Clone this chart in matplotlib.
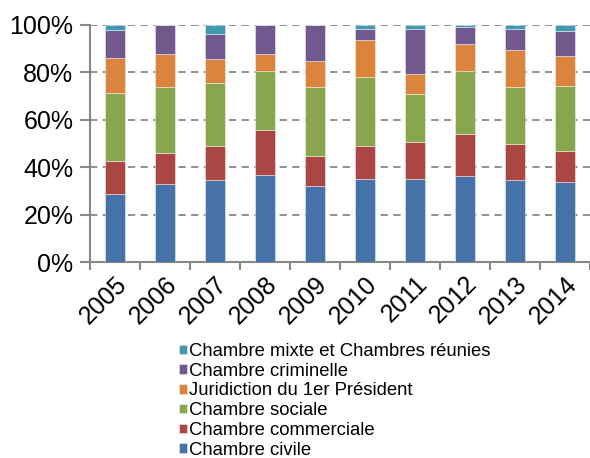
import matplotlib
matplotlib.use('Agg')
import matplotlib.pyplot as plt
import numpy as np

plt.rcParams['font.family'] = ['Liberation Sans', 'DejaVu Sans']

# parts annuelles (%)
annees = ['2005', '2006', '2007', '2008', '2009', '2010', '2011', '2012', '2013', '2014']
civile = [28.9, 32.8, 34.4, 36.5, 32.1, 35.1, 35.1, 36.2, 34.4, 33.9]
commerciale = [13.8, 13.3, 14.6, 19.3, 12.5, 13.9, 15.6, 17.9, 15.3, 13.0]
sociale = [28.7, 27.6, 26.4, 24.6, 29.1, 29.2, 20.1, 26.3, 24.2, 27.2]
president = [14.5, 13.9, 10.2, 7.2, 11.2, 15.3, 8.4, 11.7, 15.4, 12.8]
criminelle = [12.0, 12.4, 10.7, 12.4, 15.1, 5.0, 19.3, 7.2, 9.2, 10.7]
mixte = [2.1, 0.0, 3.7, 0.0, 0.0, 1.5, 1.5, 0.7, 1.5, 2.4]

series = [
    ('Chambre civile', civile, '#4572A7'),
    ('Chambre commerciale', commerciale, '#AA4643'),
    ('Chambre sociale', sociale, '#89A54E'),
    ('Juridiction du 1er Président', president, '#DB843D'),
    ('Chambre criminelle', criminelle, '#71588F'),
    ('Chambre mixte et Chambres réunies', mixte, '#4198AF'),
]

fig = plt.figure(figsize=(5.9, 4.58), dpi=100)
ax = fig.add_axes([90 / 590, 1 - 262 / 458, 500 / 590, 237 / 458])

x = np.arange(len(annees))
bottom = np.zeros(len(annees))
for nom, vals, col in series:
    ax.bar(x, vals, 0.4, bottom=bottom, color=col, label=nom,
           edgecolor=(1, 1, 1, 0.5), linewidth=0.6, zorder=3)
    bottom += np.array(vals)

ax.set_xlim(-0.5, len(annees) - 0.5)
ax.set_ylim(0, 100)
ax.set_yticks([0, 20, 40, 60, 80, 100])
ax.set_yticklabels(['0%', '20%', '40%', '60%', '80%', '100%'], fontsize=18)
ax.yaxis.grid(True, linestyle=(0, (4, 3)), color='#888888', linewidth=1.3, zorder=0)

ax.set_xticks(x)
ax.set_xticklabels(annees, fontsize=18, rotation=45, ha='right', va='top',
                   rotation_mode='anchor')
ax.tick_params(axis='x', which='major', length=0, pad=7)
ax.set_xticks(np.arange(-0.5, len(annees)), minor=True)
ax.tick_params(axis='x', which='minor', length=6, width=1.5, color='#888888')
ax.tick_params(axis='y', length=7, width=1.5, color='#888888', pad=5)

for s in ['top', 'right']:
    ax.spines[s].set_visible(False)
for s in ['left', 'bottom']:
    ax.spines[s].set_color('#888888')
    ax.spines[s].set_linewidth(1.5)

h, l = ax.get_legend_handles_labels()
fig.legend(h[::-1], l[::-1], loc='lower left', bbox_to_anchor=(166 / 590, -0.03),
           frameon=False, fontsize=13.3, labelspacing=0.15, handlelength=0.42,
           handleheight=0.42, handletextpad=0.15, borderpad=0.2)

fig.savefig('out.png', dpi=100)
